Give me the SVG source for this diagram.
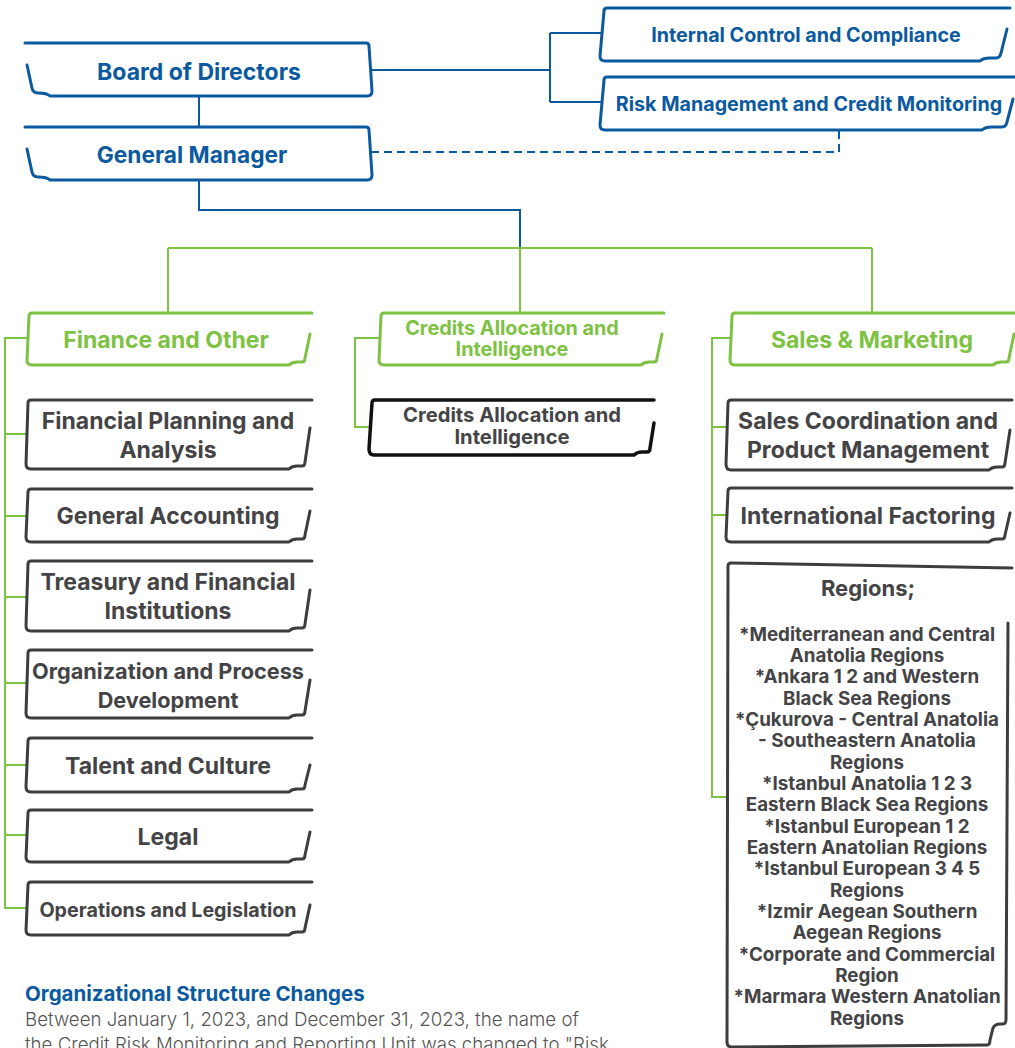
<svg xmlns="http://www.w3.org/2000/svg" width="1015" height="1048" viewBox="0 0 1015 1048">
<style>
.bb{fill:#fff;stroke:#0b5aa0;stroke-width:3;stroke-linejoin:round;stroke-linecap:round}
.gb{fill:#fff;stroke:#7dc242;stroke-width:3;stroke-linejoin:round;stroke-linecap:round}
.db{fill:#fff;stroke:#3d3d3f;stroke-width:3;stroke-linejoin:round;stroke-linecap:round}
.kb{fill:#fff;stroke:#111;stroke-width:3.5;stroke-linejoin:round;stroke-linecap:round}
.cb{fill:none;stroke:#0b5aa0;stroke-width:2}
.cd{fill:none;stroke:#0b5aa0;stroke-width:2;stroke-dasharray:8 5}
.cg{fill:none;stroke:#7dc242;stroke-width:2}
text{font-family:Inter,"Liberation Sans",sans-serif;font-weight:700;text-anchor:middle}
.tb{fill:#0b5aa0}
.tg{fill:#7dc242}
.td{fill:#444446}
.f23{font-size:23px}
.f20{font-size:19.7px}
.f19{font-size:18.8px}
.note{font-weight:300;fill:#555;text-anchor:start;font-size:18.7px}
</style>
<g id="connectors">
<path class="cb" d="M199,97 V127"/>
<path class="cb" d="M371,70 H550 M550,33 V102 M550,33 H603 M550,102 H603"/>
<path class="cd" d="M371,152 H839 V131"/>
<path class="cb" d="M199,181 V210 H520 V248"/>
<path class="cg" d="M168,248 H872 M168,248 V313 M520,248 V313 M872,248 V313"/>
<path class="cg" d="M27,338 H5 V908 H28 M5,434 H27 M5,516 H27 M5,597 H27 M5,683 H27 M5,765 H27 M5,835 H27"/>
<path class="cg" d="M380,338 H355 V427 H370"/>
<path class="cg" d="M731,338 H712 V797 H727 M712,427 H727 M712,515 H727"/>
</g>
<g id="board">
<path class="bb" d="M25,43 H366 Q369,43 369,46 L372,91 Q372,96 367,96 H50 Q47,93 38,93 Q33,93 32,88 L27,65"/>
<text class="tb f23" x="199" y="80">Board of Directors</text>
</g>
<g id="general-manager">
<path class="bb" d="M25,127 H366 Q369,127 369,130 L372,175 Q372,180 367,180 H50 Q47,177 38,177 Q33,177 32,172 L27,149"/>
<text class="tb" style="font-size:22.7px" x="192" y="163">General Manager</text>
</g>
<g id="internal-control">
<path class="bb" d="M1010,8 H607 Q604,8 604,11 L600,56 Q600,61 605,61 H980 Q983,58 990,58 H996 Q1000,58 1001,53 L1007,29"/>
<text class="tb f20" x="806" y="42">Internal Control and Compliance</text>
</g>
<g id="risk-management">
<path class="bb" d="M1016,77 H607 Q604,77 604,80 L600,125 Q600,130 605,130 H982 Q985,127 992,127 H1002 Q1006,127 1007,122 L1013,99"/>
<text class="tb f20" x="809" y="111">Risk Management and Credit Monitoring</text>
</g>
<g id="finance-other">
<path class="gb" d="M312,313 H32 Q29,313 29,316 L27,360 Q27,365 32,365 H289 Q292,362 297,362 H302 Q305,362 305,358 L310,334"/>
<text class="tg f23" x="166" y="348">Finance and Other</text>
</g>
<g id="credits-header">
<path class="gb" d="M664,313 H384 Q381,313 381,316 L379,360 Q379,365 384,365 H641 Q644,362 649,362 H654 Q657,362 657,358 L662,334"/>
<text class="tg" style="font-size:19.8px" x="512" y="335">Credits Allocation and</text>
<text class="tg" style="font-size:19.8px" x="512" y="356">Intelligence</text>
</g>
<g id="sales-marketing">
<path class="gb" d="M1016,313 H735 Q732,313 732,316 L730,360 Q730,365 735,365 H993 Q996,362 1001,362 H1006 Q1009,362 1009,358 L1014,334"/>
<text class="tg f23" x="872" y="348">Sales &amp; Marketing</text>
</g>
<g id="financial-planning">
<path class="db" d="M312,400 H31 Q28,400 28,403 L26,464 Q26,469 31,469 H289 Q292,466 297,466 H302 Q305,466 305,462 L310,428"/>
<text class="td f23" x="168" y="429">Financial Planning and</text>
<text class="td f23" x="168" y="458">Analysis</text>
</g>
<g id="general-accounting">
<path class="db" d="M312,489 H31 Q28,489 28,492 L26,537 Q26,542 31,542 H289 Q292,539 297,539 H302 Q305,539 305,535 L310,511"/>
<text class="td f23" x="168" y="524">General Accounting</text>
</g>
<g id="treasury">
<path class="db" d="M312,561 H31 Q28,561 28,564 L26,626 Q26,631 31,631 H289 Q292,628 297,628 H302 Q305,628 305,624 L310,590"/>
<text class="td f23" x="168" y="590">Treasury and Financial</text>
<text class="td f23" x="168" y="619">Institutions</text>
</g>
<g id="organization">
<path class="db" d="M312,650 H31 Q28,650 28,653 L26,713 Q26,718 31,718 H289 Q292,715 297,715 H302 Q305,715 305,711 L310,680"/>
<text class="td" style="font-size:21.7px" x="168" y="679">Organization and Process</text>
<text class="td" style="font-size:21.7px" x="168" y="708">Development</text>
</g>
<g id="talent">
<path class="db" d="M312,738 H31 Q28,738 28,741 L26,787 Q26,792 31,792 H289 Q292,789 297,789 H302 Q305,789 305,785 L310,765"/>
<text class="td f23" x="168" y="774">Talent and Culture</text>
</g>
<g id="legal">
<path class="db" d="M312,810 H31 Q28,810 28,813 L26,857 Q26,862 31,862 H289 Q292,859 297,859 H302 Q305,859 305,855 L310,832"/>
<text class="td f23" x="168" y="845">Legal</text>
</g>
<g id="operations">
<path class="db" d="M312,882 H31 Q28,882 28,885 L26,930 Q26,935 31,935 H289 Q292,932 297,932 H302 Q305,932 305,928 L310,905"/>
<text class="td f20" x="168" y="917">Operations and Legislation</text>
</g>
<g id="credits-box">
<path class="kb" d="M654,400 H375 Q372,400 372,403 L369,449 Q369,455 374,455 H634 Q637,452 642,452 H647 Q650,452 650,448 L654,423"/>
<text class="td" style="font-size:20.2px" x="512" y="422">Credits Allocation and</text>
<text class="td" style="font-size:20.2px" x="512" y="444">Intelligence</text>
</g>
<g id="sales-coordination">
<path class="db" d="M1012,400 H731 Q728,400 728,403 L726,464 Q726,470 731,470 H989 Q992,467 997,467 H1002 Q1005,467 1005,463 L1010,430"/>
<text class="td f23" x="868" y="429">Sales Coordination and</text>
<text class="td f23" x="868" y="458">Product Management</text>
</g>
<g id="international-factoring">
<path class="db" d="M1012,488 H731 Q728,488 728,491 L726,537 Q726,542 731,542 H989 Q992,539 997,539 H1002 Q1005,539 1005,535 L1010,513"/>
<text class="td f23" x="868" y="524">International Factoring</text>
</g>
<g id="regions">
<path class="db" d="M1012,568 L731,563 Q728,563 728,566 L727,1042 Q727,1047 732,1047 L987,1045 Q990,1045 990,1040 L993,1028 Q995,1024 1000,1024 H1003 Q1006,1024 1006,1019 L1008,623"/>
<text class="td" style="font-size:22px" x="868" y="596">Regions;</text>
<g class="td f19">
<text x="867" y="641">*Mediterranean and Central</text>
<text x="867" y="662">Anatolia Regions</text>
<text x="867" y="683">*Ankara 1 2 and Western</text>
<text x="867" y="705">Black Sea Regions</text>
<text x="867" y="726">*Çukurova - Central Anatolia</text>
<text x="867" y="747">- Southeastern Anatolia</text>
<text x="867" y="769">Regions</text>
<text x="867" y="790">*Istanbul Anatolia 1 2 3</text>
<text x="867" y="811">Eastern Black Sea Regions</text>
<text x="867" y="833">*Istanbul European 1 2</text>
<text x="867" y="854">Eastern Anatolian Regions</text>
<text x="867" y="875">*Istanbul European 3 4 5</text>
<text x="867" y="897">Regions</text>
<text x="867" y="918">*Izmir Aegean Southern</text>
<text x="867" y="939">Aegean Regions</text>
<text x="867" y="961">*Corporate and Commercial</text>
<text x="867" y="982">Region</text>
<text x="867" y="1003">*Marmara Western Anatolian</text>
<text x="867" y="1025">Regions</text>
</g>
</g>
<g id="note">
<text class="tb" x="25" y="1001" style="text-anchor:start;font-size:20.5px">Organizational Structure Changes</text>
<text class="note" x="25" y="1026">Between January 1, 2023, and December 31, 2023, the name of</text>
<text class="note" x="25" y="1051">the Credit Risk Monitoring and Reporting Unit was changed to "Risk</text>
</g>
</svg>
